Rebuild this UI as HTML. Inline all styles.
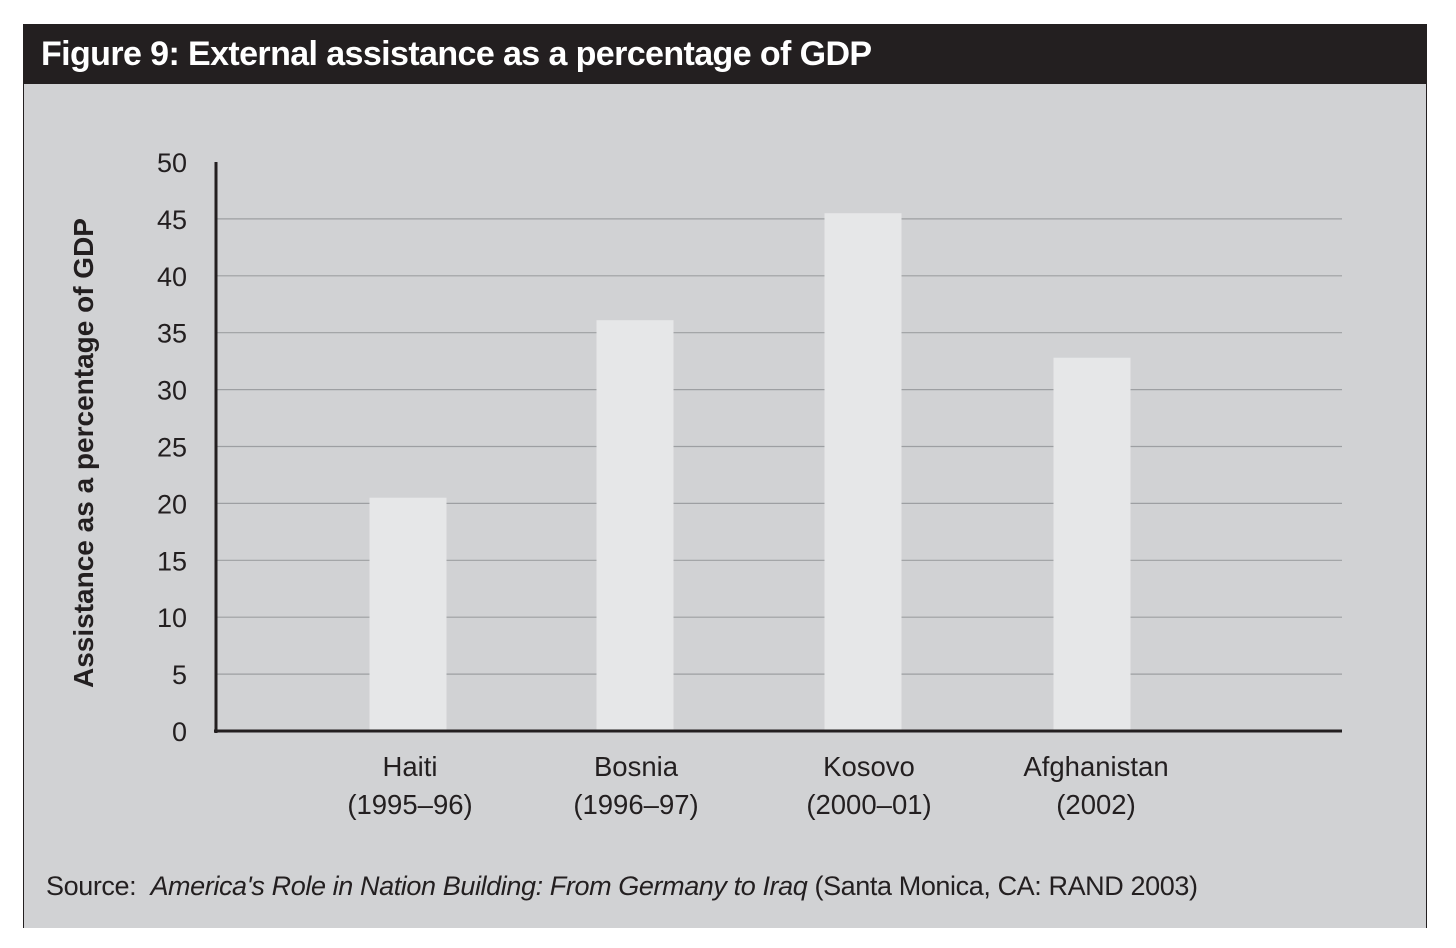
<!DOCTYPE html>
<html><head><meta charset="utf-8">
<style>
html,body{margin:0;padding:0;background:#fff;}
body{width:1456px;height:948px;position:relative;overflow:hidden;font-family:"Liberation Sans",sans-serif;}
#frame{position:absolute;left:23px;top:24px;width:1404px;height:904px;background:#d1d2d4;border:1.5px solid #231f20;border-bottom:none;box-sizing:border-box;}
#title{position:absolute;left:0;top:0;width:100%;height:59px;background:#231f20;color:#fff;font-size:34px;font-weight:bold;line-height:59px;padding-left:17px;box-sizing:border-box;letter-spacing:-0.6px;}
#source{position:absolute;left:22px;top:846px;font-size:27px;color:#231f20;letter-spacing:-0.4px;}
svg{position:absolute;left:0;top:0;}
</style></head><body>
<div id="frame">
<div id="title">Figure 9: External assistance as a percentage of GDP</div>
<div id="source">Source:&nbsp; <i>America's Role in Nation Building: From Germany to Iraq</i> (Santa Monica, CA: RAND 2003)</div>
</div>
<svg id="chart" width="1456" height="948"></svg>
<script>
const categories=["Haiti","Bosnia","Kosovo","Afghanistan"];
const periods=["(1995–96)","(1996–97)","(2000–01)","(2002)"];
const values=[20.5,36.1,45.5,32.8];
const ticks=[0,5,10,15,20,25,30,35,40,45,50];
const NS="http://www.w3.org/2000/svg";
const svg=document.getElementById('chart');
const x0=216,x1=1342,y0=731,y1=162,vmax=50;
const y=v=>y0-(v/vmax)*(y0-y1);
const centers=[408,635,863,1092];
const labelX=[410,636,869,1096];
const bw=77;
function mk(t,a){const e=document.createElementNS(NS,t);for(const k in a)e.setAttribute(k,a[k]);svg.appendChild(e);return e;}
ticks.forEach(t=>{
  if(t>0&&t<50){const g=mk('line',{x1:x0,x2:x1,y1:y(t),y2:y(t),stroke:'#9d9fa2','stroke-width':1.2});
  
  }
  const l=mk('text',{x:187,y:y(t)+10,'text-anchor':'end','font-size':27,fill:'#231f20','font-family':'Liberation Sans, sans-serif'});
  l.textContent=t;
  
  
});
values.forEach((v,i)=>{
  const b=mk('rect',{x:centers[i]-bw/2,y:y(v),width:bw,height:y0-y(v),fill:'#e6e7e8'});
  
  
  const t1=mk('text',{x:labelX[i],y:776,'text-anchor':'middle','font-size':27.5,fill:'#231f20','font-family':'Liberation Sans, sans-serif'});
  t1.textContent=categories[i];
  
  
  const t2=mk('text',{x:labelX[i],y:814,'text-anchor':'middle','font-size':27.5,fill:'#231f20','font-family':'Liberation Sans, sans-serif'});
  t2.textContent=periods[i];
  
  
});
const ya=mk('line',{x1:x0,x2:x0,y1:y1,y2:y0+2,stroke:'#231f20','stroke-width':3});


const xa=mk('line',{x1:x0-2,x2:x1,y1:y0,y2:y0,stroke:'#231f20','stroke-width':3});


const yt=mk('text',{x:0,y:0,'text-anchor':'middle','font-size':28,'font-weight':'bold',fill:'#231f20','font-family':'Liberation Sans, sans-serif',transform:'translate(93,453) rotate(-90)'});
yt.textContent='Assistance as a  percentage of GDP';


</script>
</body></html>
